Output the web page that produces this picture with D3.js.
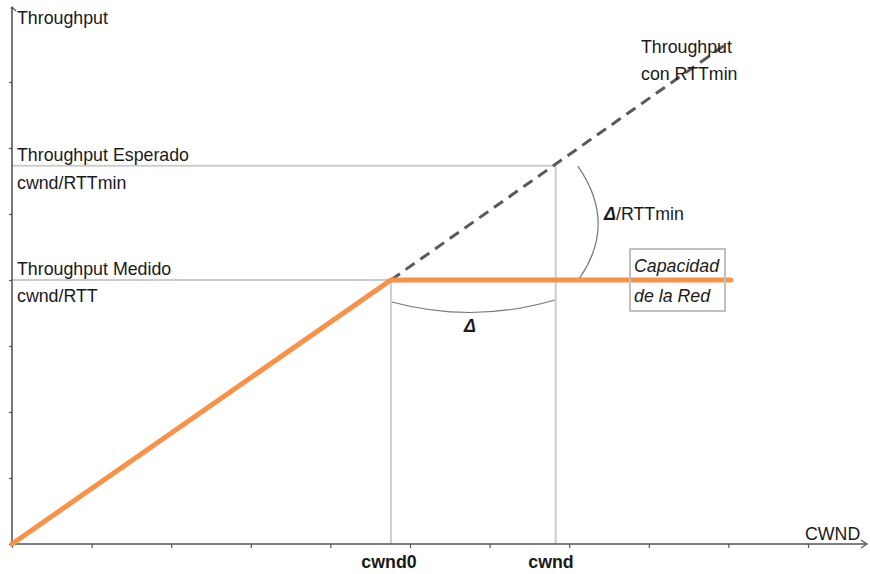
<!DOCTYPE html>
<html><head><meta charset="utf-8">
<script src="https://cdn.jsdelivr.net/npm/d3@7"></script>
<style>body{margin:0;background:#fff}svg{display:block}text{font-family:"Liberation Sans",Arial,sans-serif;fill:#1a1a1a}</style>
</head><body>
<script>
// Data (in axis units)
const xTicks = [0,1,2,3,4,5,6,7,8,9,10];
const yTicks = [0,1,2,3,4,5,6,7];
const measured = [[0,0],[4.76,4.0],[9.03,4.0]];       // orange: Throughput medido / capacidad
const ideal = [[4.76,4.0],[8.98,7.58]];               // dashed: Throughput con RTTmin
const cwnd0 = 4.76, cwnd = 6.83;
const expectedT = 5.73, measuredT = 4.0;

const W=870,H=574;
const x = d3.scaleLinear().domain([0,10]).range([12,808]);
const y = d3.scaleLinear().domain([0,7]).range([544,82]);

const svg = d3.select("body").append("svg").attr("width",W).attr("height",H);
const axisColor="#555", guide="#cccccc", orange="#f99147";

// guide lines
svg.append("line").attr("x1",x(0)).attr("x2",x(cwnd)).attr("y1",y(expectedT)).attr("y2",y(expectedT)).attr("stroke",guide).attr("stroke-width",2);
svg.append("line").attr("x1",x(0)).attr("x2",x(cwnd0)).attr("y1",y(measuredT)).attr("y2",y(measuredT)).attr("stroke",guide).attr("stroke-width",2);
svg.append("line").attr("x1",x(cwnd0)).attr("x2",x(cwnd0)).attr("y1",y(measuredT)).attr("y2",y(0)).attr("stroke",guide).attr("stroke-width",2);
svg.append("line").attr("x1",x(cwnd)).attr("x2",x(cwnd)).attr("y1",y(expectedT)).attr("y2",y(0)).attr("stroke",guide).attr("stroke-width",2);

// axes
const xAxis = d3.axisBottom(x).tickValues(xTicks).tickSize(4).tickFormat("");
const gx = svg.append("g").attr("transform",`translate(0,${y(0)})`).call(xAxis);
gx.select(".domain").remove();
gx.selectAll("line").attr("stroke",axisColor).attr("stroke-width",1.2);
const yAxis = d3.axisLeft(y).tickValues(yTicks).tickSize(3).tickFormat("");
const gy = svg.append("g").attr("transform",`translate(${x(0)},0)`).call(yAxis);
gy.select(".domain").remove();
gy.selectAll("line").attr("stroke",axisColor).attr("stroke-width",1.2);
svg.append("line").attr("x1",x(0)).attr("x2",866).attr("y1",y(0)).attr("y2",y(0)).attr("stroke",axisColor).attr("stroke-width",1.6);
svg.append("path").attr("d",`M861,${y(0)-4}L867,${y(0)}L861,${y(0)+4}`).attr("fill","none").attr("stroke",axisColor).attr("stroke-width",1.2);
svg.append("line").attr("x1",x(0)).attr("x2",x(0)).attr("y1",y(0)).attr("y2",7).attr("stroke",axisColor).attr("stroke-width",1.6);
svg.append("path").attr("d",`M${x(0)-1},9L${x(0)},7L${x(0)+4},11`).attr("fill","none").attr("stroke",axisColor).attr("stroke-width",1.2);

// lines
const line = d3.line().x(d=>x(d[0])).y(d=>y(d[1]));
svg.append("path").attr("d",line(ideal)).attr("fill","none").attr("stroke","#5a5a5a").attr("stroke-width",3).attr("stroke-dasharray","11,7");
svg.append("path").attr("d",line(measured)).attr("fill","none").attr("stroke",orange).attr("stroke-width",5).attr("stroke-linecap","round").attr("stroke-linejoin","round");

// arcs
const p1 = d3.path();
p1.moveTo(x(cwnd0)+1, y(measuredT)+22);
p1.quadraticCurveTo((x(cwnd0)+x(cwnd))/2, y(measuredT)+44, x(cwnd)-1, y(measuredT)+20);
svg.append("path").attr("d",p1.toString()).attr("fill","none").attr("stroke","#777").attr("stroke-width",1.2);
const p2 = d3.path();
p2.moveTo(x(cwnd)+22, y(expectedT));
p2.quadraticCurveTo(x(cwnd)+62, (y(expectedT)+y(measuredT))/2, x(cwnd)+24, y(measuredT)-2);
svg.append("path").attr("d",p2.toString()).attr("fill","none").attr("stroke","#777").attr("stroke-width",1.2);

// box
svg.append("rect").attr("x",630).attr("y",249).attr("width",95).attr("height",62).attr("fill","none").attr("stroke","#c0c0c0").attr("stroke-width",2);

// texts
const fs=17.8;
function t(s,xx,yy,opt={}){const e=svg.append("text").attr("x",xx).attr("y",yy).attr("font-size",opt.size||fs).text(s);
 if(opt.anchor)e.attr("text-anchor",opt.anchor); if(opt.bold)e.attr("font-weight","bold"); if(opt.italic)e.attr("font-style","italic"); return e;}
t("Throughput",17,24);
t("Throughput Esperado",17,161);
t("cwnd/RTTmin",17,189);
t("Throughput Medido",17,275);
t("cwnd/RTT",17,302);
t("Throughput",641,53);
t("con RTTmin",641,80);
const dt = svg.append("text").attr("x",604).attr("y",220).attr("font-size",fs);
dt.append("tspan").attr("font-weight","bold").attr("font-style","italic").text("Δ");
dt.append("tspan").text("/RTTmin");
t("Δ",464,332,{bold:true,italic:true});
t("Capacidad",634,272,{italic:true});
t("de la Red",634,302,{italic:true});
t("cwnd0",389,568,{anchor:"middle",bold:true});
t("cwnd",551,568,{anchor:"middle",bold:true});
t("CWND",805,540);
</script>
</body></html>
